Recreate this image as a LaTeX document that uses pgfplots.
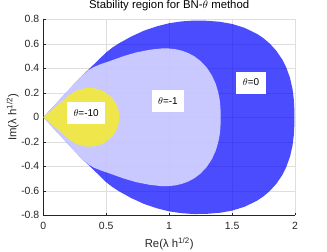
\documentclass[border=0pt]{standalone}
\usepackage{fontspec}
\setmainfont{Liberation Sans}
\usepackage{pgfplots}
\pgfplotsset{compat=1.18}
\definecolor{axc}{RGB}{38,38,38}
\definecolor{gridc}{RGB}{222,222,222}
\begin{document}
\begin{tikzpicture}
\begin{axis}[
  scale only axis, width=251.7bp, height=196bp,
  xmin=0, xmax=2, ymin=-0.8, ymax=0.8,
  xtick={0,0.5,1,1.5,2},
  ytick={-0.8,-0.6,-0.4,-0.2,0,0.2,0.4,0.6,0.8},
  yticklabels={-0.8,-0.6,-0.4,-0.2,0,0.2,0.4,0.6,0.8},
  xticklabels={0,0.5,1,1.5,2},
  axis x line*=bottom, axis y line*=left,
  axis line style={axc, line width=0.5pt},
  tick style={axc, line width=0.5pt},
  tick align=inside, major tick length=2.5bp,
  grid=major, grid style={gridc, line width=0.5pt},
  tick label style={font=\fontsize{10.5}{12}\selectfont, text=axc},
  xticklabel style={yshift=-3.5bp},
  yticklabel style={xshift=-0.5bp},
  title={Stability region for BN-$\theta$ method},
  title style={at={(axis description cs:0.5,1.027)}, anchor=base, font=\fontsize{11.4}{13}\selectfont, text=black},
  xlabel={Re(λ h\textsuperscript{1/2})},
  ylabel={Im(λ h\textsuperscript{1/2})},
  xlabel style={at={(axis description cs:0.5,-0.165)}, anchor=base, font=\fontsize{11.4}{13}\selectfont, text=axc},
  ylabel style={at={(axis description cs:-0.122,0.5)}, anchor=center, font=\fontsize{11.4}{13}\selectfont, text=axc},
  clip=true,
]
\coordinate (ll) at (rel axis cs:0,0);
\coordinate (ur) at (rel axis cs:1,1);
% theta = 0
\addplot[fill=blue, fill opacity=0.7, draw=none] coordinates {
(0,0)(0.1,0.111)(0.2,0.222)(0.3,0.333)(0.36,0.39)(0.42,0.45)(0.5,0.53)(0.55,0.57)(0.6,0.603)(0.7,0.66)(0.8,0.707)(0.9,0.742)(1.0,0.768)(1.1,0.783)(1.2,0.79)(1.3,0.788)(1.4,0.78)(1.5,0.762)(1.6,0.73)(1.7,0.68)(1.75,0.645)(1.8,0.601)(1.85,0.545)(1.9,0.47)(1.93,0.408)(1.96,0.323)(1.98,0.232)(1.99,0.15)(1.994,0.08)(1.995,0)
(1.994,-0.08)(1.99,-0.15)(1.98,-0.232)(1.96,-0.323)(1.93,-0.408)(1.9,-0.47)(1.85,-0.545)(1.8,-0.601)(1.75,-0.645)(1.7,-0.68)(1.6,-0.73)(1.5,-0.762)(1.4,-0.78)(1.3,-0.788)(1.2,-0.79)(1.1,-0.783)(1.0,-0.768)(0.9,-0.742)(0.8,-0.707)(0.7,-0.66)(0.6,-0.603)(0.55,-0.57)(0.5,-0.53)(0.42,-0.45)(0.36,-0.39)(0.3,-0.333)(0.2,-0.222)(0.1,-0.111)
} --cycle;
% theta = -1
\addplot[fill=white, fill opacity=0.7, draw=none] coordinates {
(0,0)(0.1,0.111)(0.2,0.222)(0.3,0.333)(0.36,0.385)(0.4,0.41)(0.46,0.435)(0.54,0.463)(0.64,0.5)(0.74,0.53)(0.85,0.552)(0.95,0.563)(1.0,0.5615)(1.05,0.5556)(1.1,0.544)(1.15,0.5253)(1.2,0.498)(1.25,0.459)(1.3,0.404)(1.34,0.341)(1.37,0.273)(1.39,0.204)(1.4,0.152)(1.405,0.113)(1.409,0.05)(1.41,0)
(1.409,-0.05)(1.405,-0.113)(1.4,-0.152)(1.39,-0.204)(1.37,-0.273)(1.34,-0.341)(1.3,-0.404)(1.25,-0.459)(1.2,-0.498)(1.15,-0.5253)(1.1,-0.544)(1.05,-0.5556)(1.0,-0.5615)(0.95,-0.563)(0.85,-0.552)(0.74,-0.53)(0.64,-0.5)(0.54,-0.463)(0.46,-0.435)(0.4,-0.41)(0.36,-0.385)(0.3,-0.333)(0.2,-0.222)(0.1,-0.111)
} --cycle;
% theta = -10
\addplot[fill=yellow, fill opacity=0.7, draw=none] coordinates {
(0,0)(0.1,0.087)(0.211,0.184)(0.245,0.208)(0.283,0.2255)(0.323,0.236)(0.365,0.24)(0.407,0.236)(0.447,0.2255)(0.485,0.208)(0.519,0.184)(0.549,0.154)(0.573,0.12)(0.59,0.082)(0.601,0.042)(0.605,0)
(0.601,-0.042)(0.59,-0.082)(0.573,-0.12)(0.549,-0.154)(0.519,-0.184)(0.485,-0.208)(0.447,-0.2255)(0.407,-0.236)(0.365,-0.24)(0.323,-0.236)(0.283,-0.2255)(0.245,-0.208)(0.211,-0.184)(0.1,-0.087)
} --cycle;
\tikzset{lbl/.style={fill=white, inner xsep=6.5bp, minimum height=22bp, font=\fontsize{10}{12}\selectfont}}
\node[lbl] at (axis cs:1.65,0.284) {$\theta$=0};
\node[lbl] at (axis cs:0.99,0.133) {$\theta$=-1};
\node[lbl] at (axis cs:0.34,0.035) {$\theta$=-10};
\end{axis}
\pgfresetboundingbox
\path ([shift={(-43.3bp,-36.7bp)}]ll) rectangle ([shift={(32bp,19.3bp)}]ur);
\end{tikzpicture}
\end{document}
